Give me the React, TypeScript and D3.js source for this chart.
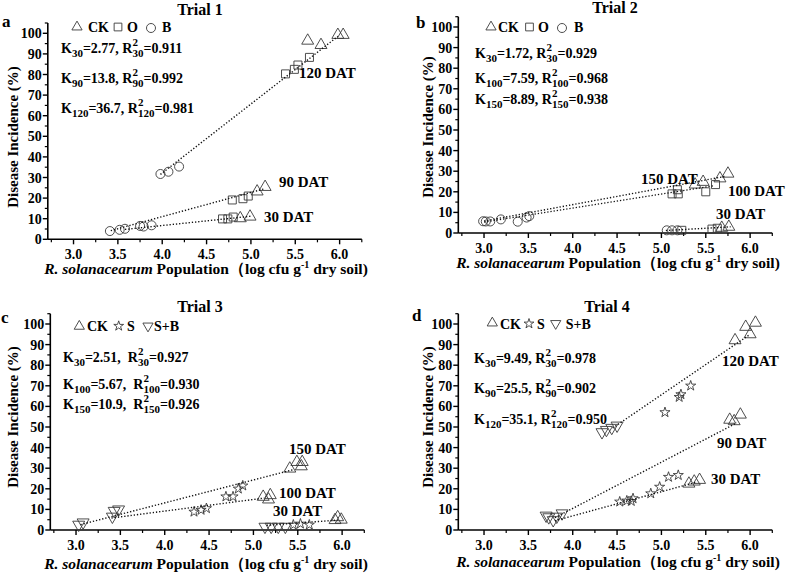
import React from "react";
import * as d3 from "d3";

// ---------------- data ----------------
const xTicks = [3.0, 3.5, 4.0, 4.5, 5.0, 5.5, 6.0];
const xMinorTicks = [2.75, 3.25, 3.75, 4.25, 4.75, 5.25, 5.75, 6.25];
const yTicks = [0, 10, 20, 30, 40, 50, 60, 70, 80, 90, 100];
const yMinorTicks = [5, 15, 25, 35, 45, 55, 65, 75, 85, 95, 105];

// Trial 1 (CK triangle, O square, B circle)
const t1CK = [[5.64, 96.4], [5.79, 94.3], [5.98, 99.2], [6.04, 99.2], [5.07, 23.2], [5.16, 25.4], [4.88, 10.2], [4.99, 11.0]];
const t1O = [[5.39, 80.3], [5.49, 82.5], [5.53, 84.6], [5.66, 88.3], [4.79, 19.1], [4.91, 19.7], [4.97, 21.0], [4.68, 9.9], [4.74, 9.9], [4.80, 10.8]];
const t1B = [[3.98, 31.7], [4.07, 32.8], [4.19, 35.3], [3.41, 4.0], [3.52, 4.6], [3.58, 5.1], [3.75, 6.5], [3.79, 6.2], [3.88, 6.8]];
const t1Fit120 = [[3.98, 31.5], [5.98, 98.5]];
const t1Fit90 = [[3.42, 4.2], [5.15, 24.5]];
const t1Fit30 = [[3.58, 4.8], [5.0, 11.2]];
const t1Dat = ["120 DAT", "90 DAT", "30 DAT"];
const t1K = [["30", "2.77", "0.911"], ["90", "13.8", "0.992"], ["120", "36.7", "0.981"]];

// Trial 2 (CK triangle, O square, B circle)
const t2CK = [[5.38, 23.5], [5.47, 24.8], [5.66, 26.5], [5.75, 28.8], [5.68, 2.5], [5.76, 3.0]];
const t2O = [[5.12, 19.0], [5.19, 19.0], [5.18, 21.0], [5.50, 20.0], [5.61, 23.5], [5.23, 1.3], [5.57, 1.9], [5.63, 2.3]];
const t2B = [[2.99, 5.7], [3.02, 5.6], [3.07, 5.6], [3.19, 6.6], [3.38, 5.5], [3.48, 7.5], [3.51, 8.2], [5.06, 1.3], [5.12, 1.3], [5.18, 1.3]];
const t2Fit150 = [[3.0, 5.8], [5.72, 27.5]];
const t2Fit100 = [[3.0, 5.3], [5.6, 23.0]];
const t2Fit30 = [[5.05, 1.2], [5.78, 3.0]];
const t2Dat = ["150 DAT", "100 DAT", "30 DAT"];
const t2K = [["30", "1.72", "0.929"], ["100", "7.59", "0.968"], ["150", "8.89", "0.938"]];

// Trial 3 (CK triangle, S star, S+B down triangle)
const t3CK = [[5.41, 29.8], [5.49, 33.0], [5.55, 33.0], [5.54, 30.9], [5.11, 16.1], [5.19, 16.9], [5.17, 14.8], [5.92, 4.8], [5.95, 6.2], [5.99, 5.0]];
const t3S = [[4.33, 8.8], [4.41, 9.7], [4.47, 10.5], [4.69, 16.2], [4.77, 16.2], [4.83, 20.0], [4.88, 21.5], [5.45, 2.5], [5.53, 3.0], [5.63, 2.5]];
const t3SB = [[3.03, 2.6], [3.08, 3.7], [3.41, 6.5], [3.43, 9.3], [3.48, 10.0], [5.13, 1.6], [5.20, 1.6], [5.28, 1.6], [5.36, 1.6]];
const t3Fit150 = [[3.05, 2.6], [5.45, 29.3]];
const t3Fit100 = [[3.4, 5.8], [5.12, 15.5]];
const t3Fit30 = [[5.15, 2.3], [5.95, 4.8]];
const t3Dat = ["150 DAT", "100 DAT", "30 DAT"];
const t3K = [["30", "2.51", "0.927"], ["100", "5.67", "0.930"], ["150", "10.9", "0.926"]];

// Trial 4 (CK triangle, S star, S+B down triangle)
const t4CK = [[5.83, 92.1], [5.95, 98.6], [6.0, 95.0], [6.06, 100.6], [5.77, 53.5], [5.82, 52.8], [5.89, 56.0], [5.31, 22.5], [5.37, 23.5], [5.43, 24.3]];
const t4S = [[5.04, 57.1], [5.20, 64.5], [5.22, 65.8], [5.33, 70.0], [4.53, 13.7], [4.61, 14.2], [4.66, 14.0], [4.68, 15.3], [4.88, 17.7], [4.98, 20.9], [5.08, 25.7], [5.19, 26.6]];
const t4SB = [[4.33, 47.5], [4.38, 48.6], [4.44, 49.6], [4.50, 50.7], [3.70, 7.0], [3.73, 6.2], [3.78, 4.8], [3.82, 6.5], [3.88, 8.1]];
const t4Fit120 = [[4.45, 49.5], [6.0, 95.0]];
const t4Fit90 = [[3.8, 6.0], [5.85, 52.0]];
const t4Fit30 = [[3.8, 4.5], [5.4, 23.3]];
const t4Dat = ["120 DAT", "90 DAT", "30 DAT"];
const t4K = [["30", "9.49", "0.978"], ["90", "25.5", "0.902"], ["120", "35.1", "0.950"]];

// ---------------- layout ----------------
const FONT = "'Liberation Serif','Times New Roman',Times,serif";
const X_DOMAIN = [2.71, 6.25];
const Y_DOMAIN = [0, 105];
const PX_X = 88.7;
const PX_Y = 2.06;

const SYM = {
  tri: d3.symbol(d3.symbolTriangle, 62)(),
  sq: d3.symbol(d3.symbolSquare, 64)(),
  circ: d3.symbol(d3.symbolCircle, 64)(),
  star: d3.symbol(d3.symbolStar, 32)(),
  dtri: d3.symbol(d3.symbolTriangle, 62)(),
};
const LSYM = {
  tri: d3.symbol(d3.symbolTriangle, 45)(),
  sq: d3.symbol(d3.symbolSquare, 60)(),
  circ: d3.symbol(d3.symbolCircle, 64)(),
  star: d3.symbol(d3.symbolStar, 30)(),
  dtri: d3.symbol(d3.symbolTriangle, 45)(),
};

const panels = [
  {
    left: 47.8, y0: 239.3, title: "Trial 1", titleX: 200, titleY: 15, letter: "a", letterX: 2, letterY: 27,
    series: [{ type: "tri", data: t1CK }, { type: "sq", data: t1O }, { type: "circ", data: t1B }],
    fits: [t1Fit120, t1Fit90, t1Fit30],
    legend: [
      { type: "tri", label: "CK", sx: 77, sy: 27, tx: 88 },
      { type: "sq", label: "O", sx: 118, sy: 27, tx: 127 },
      { type: "circ", label: "B", sx: 151, sy: 28, tx: 162 },
    ], legendY: 32,
    k: t1K, kx: 61, ky: [53, 83, 113], ksep: " ",
    dat: t1Dat, datPos: [[299, 78], [279, 187], [264, 222]],
    yLabelX: 13, yLabelY: 137, xLabelX: 206, xLabelY: 274,
  },
  {
    left: 458.3, y0: 233, title: "Trial 2", titleX: 615, titleY: 13, letter: "b", letterX: 416, letterY: 28,
    series: [{ type: "tri", data: t2CK }, { type: "sq", data: t2O }, { type: "circ", data: t2B }],
    fits: [t2Fit150, t2Fit100, t2Fit30],
    legend: [
      { type: "tri", label: "CK", sx: 491, sy: 27, tx: 498 },
      { type: "sq", label: "O", sx: 529.5, sy: 27, tx: 538 },
      { type: "circ", label: "B", sx: 562, sy: 28, tx: 574 },
    ], legendY: 32,
    k: t2K, kx: 475, ky: [58, 83, 104], ksep: " ",
    dat: t2Dat, datPos: [[641, 184], [728, 196], [716, 219]],
    yLabelX: 428, yLabelY: 127, xLabelX: 618, xLabelY: 268,
  },
  {
    left: 50.3, y0: 530, title: "Trial 3", titleX: 200, titleY: 312, letter: "c", letterX: 1, letterY: 323,
    series: [{ type: "tri", data: t3CK }, { type: "star", data: t3S }, { type: "dtri", data: t3SB }],
    fits: [t3Fit150, t3Fit100, t3Fit30],
    legend: [
      { type: "tri", label: "CK", sx: 79.3, sy: 326.3, tx: 87 },
      { type: "star", label: "S", sx: 118.7, sy: 326, tx: 127 },
      { type: "dtri", label: "S+B", sx: 148, sy: 326, tx: 154 },
    ], legendY: 331,
    k: t3K, kx: 63, ky: [362, 389, 409], ksep: "  ",
    dat: t3Dat, datPos: [[289, 454], [279, 498], [273, 516]],
    yLabelX: 13, yLabelY: 417, xLabelX: 206, xLabelY: 569,
  },
  {
    left: 458.3, y0: 530, title: "Trial 4", titleX: 607, titleY: 312, letter: "d", letterX: 412, letterY: 321,
    series: [{ type: "tri", data: t4CK }, { type: "star", data: t4S }, { type: "dtri", data: t4SB }],
    fits: [t4Fit120, t4Fit90, t4Fit30],
    legend: [
      { type: "tri", label: "CK", sx: 492.3, sy: 323, tx: 500 },
      { type: "star", label: "S", sx: 529, sy: 323.7, tx: 537 },
      { type: "dtri", label: "S+B", sx: 555.7, sy: 323.5, tx: 565.7 },
    ], legendY: 328.7,
    k: t4K, kx: 474, ky: [363, 393, 424], ksep: " ",
    dat: t4Dat, datPos: [[722, 366], [717, 448], [711, 484]],
    yLabelX: 428, yLabelY: 417, xLabelX: 618, xLabelY: 567,
  },
];

const MARK_STROKE = "#3a3a3a";

function KLine({ x, y, sub, k, r, sep }) {
  return (
    <text x={x} y={y} fontSize={14} fontWeight="bold" style={{ whiteSpace: "pre" }}>
      K
      <tspan dy={4} fontSize={11}>{sub}</tspan>
      <tspan dy={-4}>{`=${k},${sep}R`}</tspan>
      <tspan dy={-7} fontSize={11}>2</tspan>
      <tspan dx={-5.5} dy={11} fontSize={11}>{sub}</tspan>
      <tspan dy={-4}>{`=${r}`}</tspan>
    </text>
  );
}

function Panel({ cfg }) {
  const x = d3
    .scaleLinear()
    .domain(X_DOMAIN)
    .range([cfg.left, cfg.left + (X_DOMAIN[1] - X_DOMAIN[0]) * PX_X]);
  const y = d3
    .scaleLinear()
    .domain(Y_DOMAIN)
    .range([cfg.y0, cfg.y0 - (Y_DOMAIN[1] - Y_DOMAIN[0]) * PX_Y]);
  const line = d3
    .line()
    .x((d) => x(d[0]))
    .y((d) => y(d[1]));
  const [x0, x1] = x.range();
  const [yb, yt] = y.range();

  return (
    <g>
      <text x={cfg.titleX} y={cfg.titleY} textAnchor="middle" fontSize={16} fontWeight="bold">
        {cfg.title}
      </text>
      <text x={cfg.letterX} y={cfg.letterY} fontSize={17} fontWeight="bold">
        {cfg.letter}
      </text>

      <line x1={x0} x2={x0} y1={yb} y2={yt} stroke="#000" strokeWidth={1.6} />
      <line x1={x0} x2={x1} y1={yb} y2={yb} stroke="#000" strokeWidth={1.6} />
      {xTicks.map((t) => (
        <g key={"xt" + t}>
          <line x1={x(t)} x2={x(t)} y1={yb} y2={yb + 5} stroke="#000" strokeWidth={1.4} />
          <text x={x(t)} y={yb + 20} textAnchor="middle" fontSize={14} fontWeight="bold">
            {t.toFixed(1)}
          </text>
        </g>
      ))}
      {xMinorTicks.map((t) => (
        <line key={"xm" + t} x1={x(t)} x2={x(t)} y1={yb} y2={yb + 3} stroke="#000" strokeWidth={1.2} />
      ))}
      {yTicks.map((t) => (
        <g key={"yt" + t}>
          <line x1={x0 - 5} x2={x0} y1={y(t)} y2={y(t)} stroke="#000" strokeWidth={1.4} />
          <text x={x0 - 6} y={y(t)} dy="0.36em" textAnchor="end" fontSize={14} fontWeight="bold">
            {t}
          </text>
        </g>
      ))}
      {yMinorTicks.map((t) => (
        <line key={"ym" + t} x1={x0 - 3} x2={x0} y1={y(t)} y2={y(t)} stroke="#000" strokeWidth={1.2} />
      ))}

      <text
        transform={`translate(${cfg.yLabelX},${cfg.yLabelY}) rotate(-90)`}
        textAnchor="middle"
        dy="0.35em"
        fontSize={15}
        fontWeight="bold"
      >
        Disease Incidence (%)
      </text>
      <text x={cfg.xLabelX} y={cfg.xLabelY} textAnchor="middle" fontSize={15.5} fontWeight="bold">
        <tspan fontStyle="italic">R. solanacearum</tspan>
        <tspan> Population（log cfu g</tspan>
        <tspan dy={-6} fontSize={10}>-1</tspan>
        <tspan dy={6}> dry soil)</tspan>
      </text>

      {cfg.series.map((s, i) =>
        s.data.map((d, j) => (
          <path
            key={`m${i}-${j}`}
            d={SYM[s.type]}
            transform={`translate(${x(d[0])},${y(d[1])})${s.type === "dtri" ? " rotate(180)" : ""}`}
            fill="none"
            stroke={MARK_STROKE}
            strokeWidth={0.9}
          />
        ))
      )}

      {cfg.fits.map((f, i) => (
        <path
          key={"f" + i}
          d={line(f)}
          fill="none"
          stroke="#111"
          strokeWidth={1.4}
          strokeDasharray="1.3 1.9"
        />
      ))}

      {cfg.dat.map((t, i) => (
        <text key={"d" + i} x={cfg.datPos[i][0]} y={cfg.datPos[i][1]} fontSize={15} fontWeight="bold">
          {t}
        </text>
      ))}

      {cfg.legend.map((l, i) => (
        <g key={"l" + i}>
          <path
            d={LSYM[l.type]}
            transform={`translate(${l.sx},${l.sy})${l.type === "dtri" ? " rotate(180)" : ""}`}
            fill="none"
            stroke={MARK_STROKE}
            strokeWidth={0.9}
          />
          <text x={l.tx} y={cfg.legendY} fontSize={14} fontWeight="bold">
            {l.label}
          </text>
        </g>
      ))}

      {cfg.k.map((k, i) => (
        <KLine key={"k" + i} x={cfg.kx} y={cfg.ky[i]} sub={k[0]} k={k[1]} r={k[2]} sep={cfg.ksep} />
      ))}
    </g>
  );
}

export default function App() {
  return (
    <svg
      width={788}
      height={574}
      viewBox="0 0 788 574"
      style={{ position: "absolute", left: 0, top: 0, display: "block", background: "#fff" }}
      fontFamily={FONT}
    >
      <rect width={788} height={574} fill="#fff" />
      {panels.map((p, i) => (
        <Panel key={i} cfg={p} />
      ))}
    </svg>
  );
}
